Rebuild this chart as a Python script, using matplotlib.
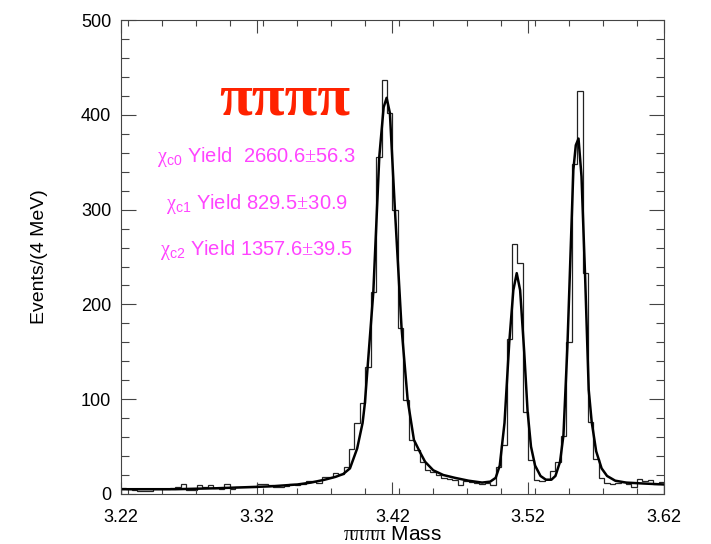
"""
ππππ 不变质量谱：直方图 + 拟合曲线（χc0 / χc1 / χc2）
输出：out.png（711x544）
"""

import numpy as np
import matplotlib
matplotlib.use("Agg")
import matplotlib.pyplot as plt
from matplotlib.ticker import MultipleLocator

plt.rcParams["font.family"] = ["Liberation Sans", "DejaVu Sans"]
plt.rcParams["mathtext.fontset"] = "custom"
plt.rcParams["mathtext.rm"] = "Liberation Serif"
plt.rcParams["mathtext.sf"] = "Liberation Sans"
plt.rcParams["mathtext.it"] = "Liberation Serif:italic"
plt.rcParams["mathtext.bf"] = "Liberation Serif:bold"

# ── 数据──
mass_lo, mass_hi = 3.22, 3.62
bin_width = 0.004   # 4 MeV

counts = [
    6, 5, 4, 3, 3, 3, 5, 5, 5, 6,
    7, 11, 4, 4, 9, 7, 9, 6, 5, 11,
    5, 7, 7, 7, 7, 11, 11, 9, 7, 7,
    8, 10, 9, 10, 14, 14, 12, 18, 18, 22,
    21, 28, 47, 75, 96, 134, 213, 356, 437, 402,
    300, 175, 99, 57, 46, 34, 25, 23, 20, 17,
    16, 15, 9, 14, 13, 12, 11, 12, 9, 28,
    52, 164, 264, 244, 87, 36, 15, 14, 16, 24,
    34, 61, 160, 348, 425, 233, 76, 37, 17, 12,
    10, 12, 13, 10, 7, 16, 14, 15, 10, 13,
]

fit_mass = [
    3.220, 3.260, 3.290, 3.310, 3.330, 3.350, 3.360, 3.370, 3.378, 3.3837,
    3.3887, 3.394, 3.398, 3.3997, 3.4017, 3.4059, 3.4103, 3.4135, 3.4157, 3.4181,
    3.4218, 3.4267, 3.4312, 3.4358, 3.4403, 3.444, 3.450, 3.4574, 3.466, 3.476,
    3.486, 3.492, 3.496, 3.499, 3.5025, 3.506, 3.509, 3.5115, 3.514, 3.517,
    3.5195, 3.522, 3.525, 3.529, 3.533, 3.537, 3.540, 3.5434, 3.5459, 3.5488,
    3.5532, 3.555, 3.557, 3.5592, 3.5618, 3.5645, 3.5667, 3.570, 3.574, 3.578,
    3.584, 3.592, 3.605, 3.620,
]
fit_events = [
    5, 5, 6, 7, 8, 10, 12, 15, 18, 21,
    27, 48, 75, 96, 134, 213, 356, 408, 418, 402,
    300, 175, 99, 57, 44, 34, 25, 20, 17, 14,
    12, 13, 17, 30, 75, 160, 215, 233, 215, 150,
    87, 50, 30, 19, 15, 15, 19, 34, 62, 155,
    342, 368, 375, 335, 232, 110, 76, 45, 27, 19,
    14, 12, 11, 10,
]

yield_labels = [
    r"$\mathrm{\chi}_{\mathsf{c0}}$ Yield  2660.6$\pm$56.3",
    r"$\mathrm{\chi}_{\mathsf{c1}}$ Yield 829.5$\pm$30.9",
    r"$\mathrm{\chi}_{\mathsf{c2}}$ Yield 1357.6$\pm$39.5",
]

x_ticks = [3.22, 3.32, 3.42, 3.52, 3.62]
y_ticks = [0, 100, 200, 300, 400, 500]

# ── 作图 ──
fig = plt.figure(figsize=(7.11, 5.44), dpi=100)
ax = fig.add_axes([0.170, 0.092, 0.764, 0.871])

edges = mass_lo + bin_width * np.arange(len(counts) + 1)
ax.stairs(counts, edges, color="#222222", lw=0.9)
ax.plot(fit_mass, fit_events, color="black", lw=1.8)

ax.set_xlim(mass_lo, mass_hi)
ax.set_ylim(0, 500)
ax.set_xticks(x_ticks)
ax.set_xticklabels([f"{t:.2f}" for t in x_ticks])
ax.set_yticks(y_ticks)
ax.xaxis.set_minor_locator(MultipleLocator(0.025))
ax.yaxis.set_minor_locator(MultipleLocator(20))
ax.tick_params(axis="both", which="both", direction="in", top=True, right=True,
               color="#444444", width=0.8, labelsize=13)
ax.tick_params(axis="x", which="major", length=9, pad=11)
ax.tick_params(axis="x", which="minor", length=4)
ax.tick_params(axis="y", which="major", length=11, pad=7)
ax.tick_params(axis="y", which="minor", length=6)
for s in ax.spines.values():
    s.set_color("#444444"); s.set_linewidth(0.8)

ax.set_ylabel("Events/(4 MeV)", fontsize=14, labelpad=24)
# 原图底部标签被裁掉一半，这里稍微上移以完整显示
ax.set_xlabel(r"$\mathrm{\pi\pi\pi\pi}$ Mass", fontsize=15, labelpad=-1)

ax.text(0.302, 0.831, "ππππ", transform=ax.transAxes, ha="center", va="center",
        family="Liberation Serif", fontweight="bold", fontsize=43, color="#ff2200")
for lbl, yy in zip(yield_labels, [0.711, 0.612, 0.515]):
    ax.text(0.250, yy, lbl, transform=ax.transAxes, ha="center", va="center",
            fontsize=14.5, color="#ff44ff")

fig.savefig("out.png", dpi=100)
